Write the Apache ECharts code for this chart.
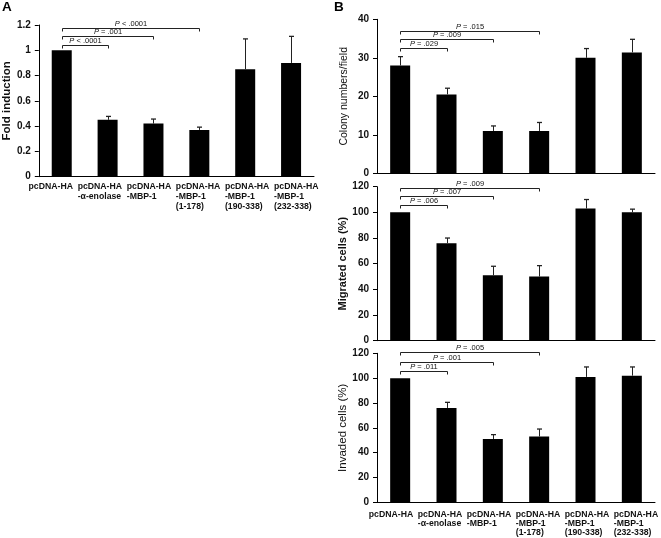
<!DOCTYPE html>
<html><head><meta charset="utf-8">
<script src="https://cdn.jsdelivr.net/npm/echarts@6/dist/echarts.min.js"></script>
<style>html,body{margin:0;padding:0;background:#fff}#c{width:661px;height:538px}</style>
</head><body><div id="c"></div>
<script>
// ---- data ----
const categories = ['pcDNA-HA', 'pcDNA-HA\n-α-enolase', 'pcDNA-HA\n-MBP-1', 'pcDNA-HA\n-MBP-1\n(1-178)', 'pcDNA-HA\n-MBP-1\n(190-338)', 'pcDNA-HA\n-MBP-1\n(232-338)'];
const foldInduction = [1.0, 0.45, 0.42, 0.37, 0.85, 0.90];
const foldInductionErr = [0, 0.027, 0.036, 0.022, 0.24, 0.21];
const colonyNumbers = [28, 20.5, 11, 11, 30, 31.4];
const colonyNumbersErr = [2.3, 1.6, 1.3, 2.2, 2.4, 3.4];
const migratedCells = [100, 76, 51, 50, 103, 100];
const migratedCellsErr = [0.5, 4, 7, 8.5, 7, 2.5];
const invadedCells = [100, 76, 51, 53, 101, 102];
const invadedCellsErr = [0.5, 4.5, 3.5, 6, 8, 7];
// significance brackets: [fromIndex, toIndex, level, P text]
const foldBrackets = [[0, 1, 1.04, '< .0001'], [0, 2, 1.11, '= .001'], [0, 3, 1.18, '< .0001']];
const colonyBrackets = [[0, 1, 32.6, '= .029'], [0, 2, 34.9, '= .009'], [0, 3, 37.0, '= .015']];
const migratedBrackets = [[0, 1, 105.8, '= .006'], [0, 2, 112.8, '= .007'], [0, 3, 119.2, '= .009']];
const invadedBrackets = [[0, 1, 105.7, '= .011'], [0, 2, 113.2, '= .001'], [0, 3, 120.8, '= .005']];
const axisNames = ['Fold induction', 'Colony numbers/field', 'Migrated cells (%)', 'Invaded cells (%)'];
const yScales = [[0, 1.2, 0.2], [0, 40, 10], [0, 120, 20], [0, 120, 20]];

// ---- chart ----
const FONT = '"Liberation Sans", Arial, sans-serif';
const INK = '#111';

function errorSeries(gi, vals, errs) {
  return {
    type: 'custom', xAxisIndex: gi, yAxisIndex: gi, z: 5, silent: true,
    data: vals.map((v, i) => [i, v, v + errs[i]]),
    renderItem(params, api) {
      const b = api.coord([api.value(0), api.value(1)]);
      const t = api.coord([api.value(0), api.value(2)]);
      if (Math.abs(b[1] - t[1]) < 0.8) return null;
      const x = Math.round(b[0]) + 0.5;
      return { type: 'group', children: [
        { type: 'line', shape: { x1: x, y1: b[1], x2: x, y2: t[1] }, style: { stroke: '#222', lineWidth: 1 } },
        { type: 'line', shape: { x1: x - 2.5, y1: t[1], x2: x + 2.5, y2: t[1] }, style: { stroke: '#222', lineWidth: 1.3 } }
      ] };
    }
  };
}

function bracketSeries(gi, brackets) {
  return {
    type: 'custom', xAxisIndex: gi, yAxisIndex: gi, z: 6, silent: true, clip: false,
    data: brackets.map(b => [b[0], b[1], b[2]]),
    renderItem(params, api) {
      const p0 = api.coord([api.value(0), api.value(2)]);
      const p1 = api.coord([api.value(1), api.value(2)]);
      const y = Math.round(p0[1]) + 0.5;
      const x0 = Math.round(p0[0]) + 0.5, x1 = Math.round(p1[0]) + 0.5;
      const lab = brackets[params.dataIndex][3];
      return { type: 'group', children: [
        { type: 'polyline', shape: { points: [[x0, y + 3], [x0, y], [x1, y], [x1, y + 3]] },
          style: { stroke: '#222', lineWidth: 1, fill: null } },
        { type: 'text', x: (x0 + x1) / 2, y: y - 1,
          style: { text: '{i|P} {n|' + lab + '}', align: 'center', verticalAlign: 'bottom',
            fontSize: 7.5, fontFamily: FONT, fill: INK,
            rich: { i: { fontStyle: 'italic', fontSize: 7.5, fontFamily: FONT, fill: INK },
                    n: { fontSize: 7.5, fontFamily: FONT, fill: INK } } } }
      ] };
    }
  };
}

const labelRich = (lh) => ({ a: { width: 44, align: 'left', fontSize: 8.7, fontWeight: 'bold', fontFamily: FONT, color: INK, lineHeight: lh } });
const labelFmt = v => v.split('\n').map(s => '{a|' + s + '}').join('\n');

const grids = [
  { left: 37, top: 25, width: 277, height: 151.7 },      // A
  { left: 26, top: 25, width: 294.6, height: 151.7 },    // A labels
  { left: 377, top: 19.3, width: 278, height: 154 },     // B colony
  { left: 377, top: 186.7, width: 278, height: 154 },    // B migrated
  { left: 377, top: 353.3, width: 278, height: 149 },    // B invaded
  { left: 366.3, top: 353.3, width: 296, height: 149 }   // B labels
];

const dataGrid = [0, 2, 3, 4];
const xAxes = [], yAxes = [];
grids.forEach((g, gi) => {
  const di = dataGrid.indexOf(gi);
  if (di >= 0) {
    xAxes.push({ gridIndex: gi, type: 'category', data: categories,
      axisLine: { show: true, lineStyle: { color: '#000', width: 1 } },
      axisTick: { show: false }, axisLabel: { show: false } });
    const s = yScales[di];
    const nameStyle = [
      { fontWeight: 'bold', fontSize: 11.5, gap: 23 },
      { fontWeight: 'normal', fontSize: 10.5, gap: 27 },
      { fontWeight: 'bold', fontSize: 11, gap: 27 },
      { fontWeight: 'normal', fontSize: 11.5, gap: 27 }
    ][di];
    yAxes.push({ gridIndex: gi, type: 'value', min: s[0], max: s[1], interval: s[2],
      name: axisNames[di], nameLocation: 'middle', nameGap: nameStyle.gap,
      nameTextStyle: { fontFamily: FONT, fontSize: nameStyle.fontSize, fontWeight: nameStyle.fontWeight, color: INK },
      axisLine: { show: true, lineStyle: { color: '#000', width: 1 } },
      axisTick: { show: true, length: 4, lineStyle: { color: '#000' } },
      splitLine: { show: false },
      axisLabel: { fontFamily: FONT, fontSize: 10, fontWeight: 'bold', color: INK, margin: 8 } });
  } else {
    const lh = gi === 1 ? 9.8 : 9.3;
    xAxes.push({ gridIndex: gi, type: 'category', data: categories,
      axisLine: { show: false }, axisTick: { show: false },
      axisLabel: { show: true, interval: 0, margin: gi === 1 ? 5 : 7.5, formatter: labelFmt, rich: labelRich(lh) } });
    yAxes.push({ gridIndex: gi, type: 'value', show: false, min: 0, max: 1 });
  }
});

const barSeries = (gi, vals) => ({ type: 'bar', xAxisIndex: gi, yAxisIndex: gi, data: vals, barWidth: 20,
  itemStyle: { color: '#000' }, silent: true, animation: false });

const option = {
  animation: false,
  backgroundColor: '#fff',
  title: [
    { text: 'A', left: 2, top: 0, padding: 0, textStyle: { fontFamily: FONT, fontSize: 13.5, fontWeight: 'bold', color: '#000' } },
    { text: 'B', left: 334, top: 0, padding: 0, textStyle: { fontFamily: FONT, fontSize: 13.5, fontWeight: 'bold', color: '#000' } }
  ],
  grid: grids,
  xAxis: xAxes,
  yAxis: yAxes,
  series: [
    barSeries(0, foldInduction), errorSeries(0, foldInduction, foldInductionErr), bracketSeries(0, foldBrackets),
    barSeries(2, colonyNumbers), errorSeries(2, colonyNumbers, colonyNumbersErr), bracketSeries(2, colonyBrackets),
    barSeries(3, migratedCells), errorSeries(3, migratedCells, migratedCellsErr), bracketSeries(3, migratedBrackets),
    barSeries(4, invadedCells), errorSeries(4, invadedCells, invadedCellsErr), bracketSeries(4, invadedBrackets)
  ]
};
const chart = echarts.init(document.getElementById('c'), null, { renderer: 'canvas' });
chart.setOption(option);
</script>
</body></html>
